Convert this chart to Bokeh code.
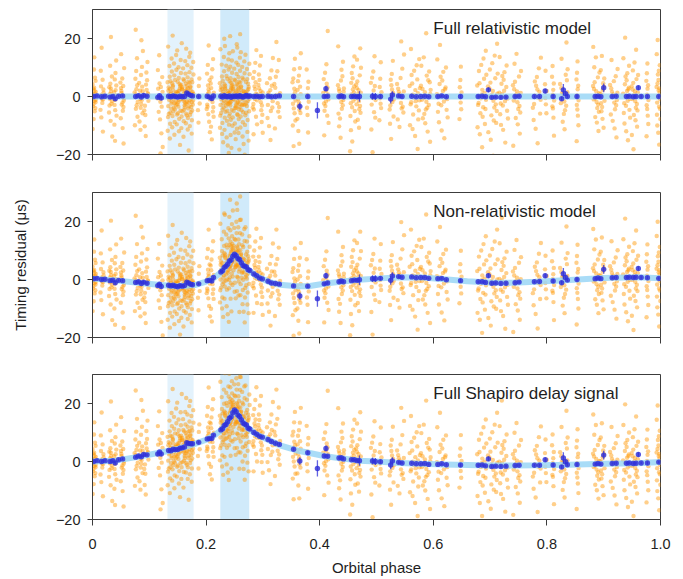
import numpy as np
from bokeh.plotting import figure
from bokeh.models import Range1d, FixedTicker, Label, BoxAnnotation
from bokeh.layouts import column
from bokeh.embed import file_html
from bokeh.resources import INLINE

# ---------------- data ----------------
panel_titles = ["Full relativistic model", "Non-relativistic model", "Full Shapiro delay signal"]
x_label = "Orbital phase"
y_label = "Timing residual (μs)"

x_ticks = [0, 0.2, 0.4, 0.6, 0.8, 1.0]
x_tick_labels = ["0", "0.2", "0.4", "0.6", "0.8", "1.0"]
y_ticks = [-20, 0, 20]
y_tick_labels = ["−20", "0", "20"]

# shaded phase windows
shade_lo = [0.132, 0.225]
shade_hi = [0.178, 0.276]

# model curves (light blue)
curve_phase = [0.0, 0.04, 0.08, 0.12, 0.15, 0.18, 0.2, 0.215, 0.225, 0.235, 0.245, 0.25, 0.255, 0.265,
               0.275, 0.29, 0.31, 0.33, 0.36, 0.38, 0.41, 0.44, 0.47, 0.5, 0.54, 0.58, 0.62, 0.66,
               0.7, 0.74, 0.78, 0.84, 0.9, 0.96, 1.0]
curve_full = [0.0, 0.0, 0.0, 0.0, 0.0, 0.0, 0.0, 0.0, 0.0, 0.0, 0.0, 0.0, 0.0, 0.0, 0.0, 0.0, 0.0, 0.0,
              0.0, 0.0, 0.0, 0.0, 0.0, 0.0, 0.0, 0.0, 0.0, 0.0, 0.0, 0.0, 0.0, 0.0, 0.0, 0.0, 0.0]
curve_nonrel = [0.3, -0.3, -1.1, -1.9, -2.3, -1.9, -0.7, 0.7, 2.3, 4.6, 7.3, 8.7, 7.6, 5.0, 3.2, 1.0,
                -0.8, -1.8, -2.3, -2.3, -1.4, -0.7, -0.1, 0.3, 0.8, 0.7, 0.1, -0.6, -1.0, -1.1, -0.8,
                -0.2, 0.5, 0.8, 0.4]
curve_shapiro = [0.0, 0.3, 1.6, 3.1, 4.3, 6.1, 7.5, 9.1, 10.6, 12.8, 16.0, 17.8, 16.4, 13.5, 11.3, 9.2,
                 7.4, 5.6, 3.8, 3.0, 1.8, 1.0, 0.3, 0.0, -0.5, -0.8, -1.0, -1.2, -1.4, -1.4, -1.3,
                 -1.1, -0.8, -0.6, -0.2]

# binned residuals (blue points with error bars)
blue_phase = [0.002, 0.008, 0.016, 0.022, 0.031, 0.036, 0.040, 0.046, 0.053, 0.076,
              0.081, 0.086, 0.090, 0.096, 0.115, 0.118, 0.121, 0.134, 0.138, 0.142,
              0.146, 0.150, 0.154, 0.158, 0.162, 0.166, 0.169, 0.173, 0.176, 0.187,
              0.202, 0.206, 0.210, 0.213, 0.226, 0.229, 0.232, 0.235, 0.238, 0.241,
              0.244, 0.247, 0.250, 0.253, 0.256, 0.259, 0.262, 0.265, 0.268, 0.271,
              0.274, 0.277, 0.284, 0.289, 0.294, 0.299, 0.309, 0.315, 0.322, 0.329,
              0.354, 0.365, 0.379, 0.396, 0.408, 0.411, 0.414, 0.434, 0.438, 0.442,
              0.456, 0.461, 0.466, 0.470, 0.493, 0.498, 0.507, 0.525, 0.528, 0.539,
              0.545, 0.562, 0.570, 0.578, 0.585, 0.592, 0.608, 0.615, 0.623, 0.648,
              0.679, 0.686, 0.692, 0.697, 0.703, 0.710, 0.719, 0.728, 0.744, 0.751,
              0.778, 0.787, 0.797, 0.811, 0.826, 0.829, 0.833, 0.836, 0.853, 0.885,
              0.890, 0.895, 0.900, 0.915, 0.922, 0.940, 0.945, 0.952, 0.957, 0.961,
              0.966, 0.977, 0.997]
blue_full = [0.0, 0.2, -0.1, 0.1, -0.2, 0.0, -0.8, 0.1, 0.2, 0.0,
             0.3, -0.2, 0.4, 0.1, -0.3, 0.3, -0.5, 0.1, -0.1, 0.2,
             0.0, -0.2, 0.1, -0.1, 0.0, 1.2, 0.8, 0.4, 0.2, 0.0,
             0.1, -0.2, -0.7, 0.2, 0.1, -0.2, 0.3, 0.0, -0.1, 0.2,
             -0.3, 0.1, 0.0, 0.2, -0.1, 0.3, 0.0, -0.2, 0.1, 0.4,
             0.0, 0.2, 0.0, 0.1, -0.1, 0.0, 0.1, -0.1, 0.0, 0.2,
             0.0, -3.4, 0.0, -4.8, 0.0, 2.7, 0.1, 0.0, 0.2, -0.1,
             0.0, 0.1, -0.1, 0.0, 0.1, 0.0, 0.0, -0.9, 0.5, 0.2,
             0.0, 0.1, -0.1, 0.0, 0.1, -0.1, 0.0, 0.2, -0.1, 0.0,
             0.0, 0.1, -0.1, 2.3, -0.3, -0.2, -0.3, -0.2, 0.0, 0.1,
             0.0, 0.0, 1.9, 0.0, -0.8, 2.3, 1.0, 0.0, 0.0, 0.0,
             0.1, -0.1, 3.0, 0.0, 0.1, 0.0, 0.1, -0.1, 0.0, 3.0,
             0.0, 0.0, 0.0]
blue_nonrel = [0.3, 0.4, 0.0, 0.1, -0.4, -0.2, -1.1, -0.3, -0.4, -1.0,
               -0.8, -1.4, -0.9, -1.3, -2.1, -1.6, -2.4, -2.0, -2.2, -2.0,
               -2.3, -2.5, -2.1, -2.3, -2.1, -0.9, -1.2, -1.6, -1.8, -1.5,
               -0.4, -0.3, -0.5, 0.7, 2.6, 3.0, 4.2, 4.6, 5.3, 6.4,
               6.7, 8.0, 8.7, 8.2, 7.2, 6.9, 5.8, 4.8, 4.6, 4.3,
               3.4, 3.1, 1.9, 1.3, 0.5, 0.2, -0.6, -1.2, -1.4, -1.6,
               -2.2, -5.7, -2.3, -6.6, -1.5, 1.3, -1.2, -0.8, -0.5, -0.8,
               -0.4, -0.2, -0.3, -0.1, 0.3, 0.3, 0.4, -0.3, 1.2, 1.0,
               0.8, 0.9, 0.6, 0.7, 0.7, 0.4, 0.3, 0.4, -0.1, -0.4,
               -0.8, -0.8, -1.0, 1.3, -1.3, -1.2, -1.4, -1.3, -1.1, -0.9,
               -0.8, -0.7, 1.3, -0.5, -1.1, 2.0, 0.7, -0.2, 0.0, 0.3,
               0.5, 0.3, 3.5, 0.6, 0.7, 0.7, 0.8, 0.7, 0.8, 3.8,
               0.7, 0.6, 0.4]
blue_shapiro = [0.0, 0.3, 0.0, 0.3, 0.0, 0.3, -0.5, 0.6, 0.9, 1.5,
                1.9, 1.6, 2.4, 2.3, 2.6, 3.3, 2.6, 3.8, 3.7, 4.2,
                4.1, 4.1, 4.6, 4.7, 5.0, 6.5, 6.2, 6.1, 6.1, 6.6,
                7.8, 7.9, 7.9, 9.1, 10.9, 11.3, 12.4, 12.8, 13.7, 14.9,
                15.4, 16.8, 17.8, 17.2, 16.0, 15.5, 14.4, 13.3, 12.9, 12.6,
                11.5, 11.2, 10.0, 9.4, 8.7, 8.4, 7.6, 6.9, 6.3, 5.9,
                4.2, 0.2, 3.0, -2.4, 1.9, 4.5, 1.8, 1.2, 1.3, 0.9,
                0.6, 0.6, 0.3, 0.3, 0.2, 0.0, -0.1, -1.2, 0.2, -0.3,
                -0.5, -0.6, -0.8, -0.8, -0.7, -1.0, -1.0, -0.8, -1.1, -1.2,
                -1.3, -1.2, -1.5, 0.9, -1.7, -1.6, -1.7, -1.6, -1.4, -1.3,
                -1.3, -1.3, 0.6, -1.2, -1.9, 1.2, -0.1, -1.1, -1.0, -0.9,
                -0.7, -0.9, 2.2, -0.7, -0.6, -0.6, -0.5, -0.7, -0.6, 2.4,
                -0.5, -0.5, -0.2]
blue_err = [0.4, 0.4, 0.4, 0.4, 0.5, 0.4, 0.6, 0.4, 0.4, 0.4,
            0.5, 0.4, 0.6, 0.4, 0.5, 0.5, 0.7, 0.4, 0.3, 0.3,
            0.3, 0.3, 0.3, 0.3, 0.3, 0.4, 0.4, 0.4, 0.4, 0.4,
            0.4, 0.4, 0.6, 0.4, 0.3, 0.3, 0.3, 0.3, 0.3, 0.3,
            0.3, 0.3, 0.3, 0.3, 0.3, 0.3, 0.3, 0.3, 0.3, 0.3,
            0.3, 0.3, 0.4, 0.4, 0.4, 0.4, 0.4, 0.4, 0.4, 0.5,
            0.5, 1.3, 0.6, 2.8, 0.5, 1.0, 0.5, 0.4, 0.4, 0.4,
            0.4, 0.4, 0.4, 1.8, 1.2, 1.2, 0.6, 1.5, 1.3, 0.5,
            0.4, 0.3, 0.3, 0.3, 0.3, 0.3, 0.4, 0.4, 0.4, 0.6,
            0.4, 0.4, 0.4, 0.8, 0.5, 0.4, 0.4, 0.4, 0.4, 0.4,
            0.4, 0.4, 0.8, 0.6, 0.7, 2.0, 0.8, 0.5, 0.6, 0.4,
            0.4, 0.4, 1.5, 0.4, 0.4, 0.4, 0.4, 0.4, 0.4, 0.8,
            0.4, 0.5, 0.4]

# individual TOA residuals (orange), grouped by observing epoch (phase stripe)
stripe_lo = [0.000, 0.014, 0.029, 0.038, 0.049, 0.074, 0.082, 0.091, 0.114, 0.132,
             0.140, 0.148, 0.156, 0.164, 0.171, 0.185, 0.201, 0.208, 0.224, 0.232,
             0.240, 0.246, 0.254, 0.260, 0.268, 0.282, 0.292, 0.307, 0.320, 0.352,
             0.360, 0.377, 0.406, 0.432, 0.453, 0.464, 0.490, 0.505, 0.523, 0.536,
             0.558, 0.578, 0.606, 0.646, 0.677, 0.696, 0.716, 0.740, 0.775, 0.796,
             0.809, 0.823, 0.852, 0.881, 0.894, 0.911, 0.934, 0.949, 0.975, 0.993]
stripe_hi = [0.006, 0.020, 0.035, 0.043, 0.056, 0.080, 0.089, 0.099, 0.124, 0.140,
             0.148, 0.156, 0.164, 0.171, 0.178, 0.189, 0.207, 0.214, 0.232, 0.240,
             0.246, 0.254, 0.260, 0.268, 0.277, 0.290, 0.300, 0.318, 0.331, 0.358,
             0.367, 0.381, 0.416, 0.443, 0.463, 0.473, 0.499, 0.509, 0.531, 0.549,
             0.577, 0.596, 0.626, 0.650, 0.694, 0.714, 0.732, 0.755, 0.790, 0.800,
             0.813, 0.837, 0.856, 0.893, 0.902, 0.925, 0.947, 0.961, 0.979, 1.000]
stripe_full = [0.0, 0.0, 0.0, 0.0, 0.0, 0.0, 0.0, 0.0, 0.0, 0.0,
               0.0, 0.0, 0.0, 0.0, 0.0, 0.0, 0.0, 0.0, 0.0, 0.0,
               0.0, 0.0, 0.0, 0.0, 0.0, 0.0, 0.0, 0.0, 0.0, 0.0,
               0.0, 0.0, 0.0, 0.0, 0.0, 0.0, 0.0, 0.0, 0.0, 0.0,
               0.0, 0.0, 0.0, 0.0, 0.0, 0.0, 0.0, 0.0, 0.0, 0.0,
               0.0, 0.0, 0.0, 0.0, 0.0, 0.0, 0.0, 0.0, 0.0, 0.0]
stripe_nonrel = [0.3, 0.1, -0.2, -0.3, -0.5, -1.0, -1.2, -1.4, -1.9, -2.1,
                 -2.2, -2.3, -2.3, -2.2, -2.0, -1.6, -0.4, 0.3, 2.9, 4.9,
                 6.7, 8.2, 7.1, 5.3, 3.6, 1.5, 0.3, -0.9, -1.6, -2.3,
                 -2.3, -2.3, -1.4, -0.8, -0.3, -0.1, 0.2, 0.4, 0.6, 0.8,
                 0.8, 0.6, 0.3, -0.4, -0.9, -1.0, -1.1, -1.1, -0.8, -0.7,
                 -0.5, -0.3, -0.1, 0.3, 0.5, 0.6, 0.7, 0.8, 0.7, 0.4]
stripe_shapiro = [0.0, 0.1, 0.2, 0.3, 0.7, 1.5, 1.8, 2.2, 3.1, 3.6,
                  4.0, 4.4, 4.9, 5.4, 5.8, 6.6, 7.9, 8.6, 11.2, 13.1,
                  15.3, 17.0, 15.8, 13.8, 11.8, 9.6, 8.6, 7.2, 6.0, 4.1,
                  3.6, 3.0, 1.8, 1.1, 0.6, 0.4, 0.0, -0.1, -0.3, -0.5,
                  -0.7, -0.8, -1.0, -1.2, -1.3, -1.4, -1.4, -1.4, -1.3, -1.3,
                  -1.2, -1.1, -1.0, -0.9, -0.8, -0.7, -0.6, -0.6, -0.4, -0.2]
orange_resid = [
    [0.5, -1.2, 2.1, -3.4, 1.0, -0.3, 4.2, -5.1, 0.8, -2.0, 3.0, -0.7, 6.5, -7.8, 1.6, -1.5, 2.7, -4.0, 9.3, -11.2, 0.2, -2.6, 5.4, 13.5],
    [-0.4, 1.3, -2.2, 3.5, -1.0, 0.6, -4.6, 5.8, -7.2, 2.4, -0.9, 8.9, -12.1, 16.8],
    [0.9, -1.6, 2.8, -3.1, 0.1, 4.4, -5.5, 1.7, -0.8, 6.9, -8.4, 3.2, -2.5, 10.6, -13.8, 20.5],
    [-1.1, 0.4, 2.2, -2.9, 3.8, -4.7, 1.5, -0.2, 5.9, -6.6, 8.1, -9.7, 12.4, -15.3],
    [1.2, -0.6, -2.1, 2.9, -3.6, 0.3, 4.8, -4.9, 1.9, -1.4, 6.2, -7.5, 3.6, -2.8, 9.8, -10.9, 14.6, -16.2],
    [0.7, -1.9, 2.5, -0.2, 3.9, -4.2, 1.4, -3.0, 6.1, -7.0, 8.8, -9.9, 13.2, 23.0],
    [-0.9, 1.8, -2.6, 0.3, 3.4, -3.9, 4.7, -1.3, 2.0, -5.8, 7.4, -8.6, 10.2, -11.5, 15.7, 19.4],
    [0.2, -1.5, 2.3, -3.2, 1.1, 4.1, -4.8, 5.6, -6.4, 0.8, 8.3, -10.3, 11.9, -13.6],
    [-0.3, 1.6, -1.8, 2.7, -3.5, 4.5, -0.6, 3.3, -5.3, 6.7, -7.9, 9.1, -12.7, 14.2, -17.4, -19.6],
    [0.4, -1.7, 2.6, -3.3, 1.2, -0.5, 4.9, -5.6, 3.1, -2.4, 6.8, -7.1, 0.9, -1.1, 8.6, -9.4, 2.0, -4.2, 10.5, -11.8, 5.3, -6.0, 13.1, -14.5, 17.2, -0.2],
    [-0.8, 1.5, -2.3, 3.4, 0.1, -3.9, 4.6, -4.4, 2.2, -1.6, 7.3, -6.7, 1.0, -0.4, 9.2, -8.8, 3.8, -2.9, 11.4, -10.6, 5.7, -5.2, 14.3, -13.2, 21.0, 0.6],
    [1.1, -0.9, 2.0, -2.7, 3.7, -3.5, 0.5, -1.3, 5.1, -4.9, 6.4, -6.2, 2.8, -2.0, 8.1, -7.7, 1.7, -0.1, 10.1, -9.6, 4.3, -5.8, 12.6, -12.0, 15.9, -16.7],
    [-0.2, 1.9, -1.5, 2.4, -3.0, 0.7, 4.0, -4.6, 3.2, -2.2, 6.0, -6.9, 1.3, -0.6, 7.9, -8.5, 2.6, -3.7, 9.7, -10.9, 5.5, -5.1, 12.2, -13.9, 18.4, -1.0],
    [0.6, -1.2, 2.9, -2.5, 1.4, -0.3, 4.4, -4.1, 3.6, -3.4, 6.6, -5.9, 0.2, -1.8, 8.4, -7.4, 2.3, -2.1, 10.8, -9.2, 5.0, -6.5, 13.7, -11.4, 16.5, -18.6],
    [-0.5, 1.0, -2.0, 3.1, 0.8, -3.6, 4.7, -4.8, 2.1, -1.4, 5.9, -6.3, 1.6, -0.7, 7.6, -8.2, 3.5, -2.8, 9.9, -10.2, 4.9, -5.4, 11.9, -12.8, 15.1, -0.1],
    [0.3, -2.4, 3.6, -4.7, 6.2, -9.0],
    [0.8, -1.0, 2.4, -2.8, 0.1, 3.8, -4.3, 1.5, -3.5, 5.6, -6.1, 7.9, -8.7, 10.9, -12.3, 17.6],
    [-0.6, 1.3, -1.9, 2.9, -3.7, 0.4, 4.5, -5.2, 6.6, -7.0, 9.4, -10.4, 12.9, -14.8],
    [0.5, -1.4, 2.7, -2.9, 1.6, -0.2, 4.6, -4.5, 3.3, -3.8, 6.9, -6.6, 0.9, -1.0, 8.7, -9.1, 2.2, -2.3, 11.0, -10.8, 5.4, -5.7, 13.6, -12.9, 16.3, -15.8, 0.0, 19.9],
    [-0.7, 1.2, -2.1, 3.0, 0.3, -3.2, 4.2, -4.9, 2.5, -1.7, 7.1, -7.3, 1.8, -0.4, 9.3, -8.4, 3.7, -2.6, 10.6, -11.5, 6.1, -5.3, 12.8, -14.1, 17.4, -16.9, 0.8, -19.5],
    [1.0, -0.6, 2.3, -2.4, 3.6, -3.1, 0.2, -1.8, 5.2, -4.6, 6.3, -6.8, 2.9, -2.0, 8.2, -8.0, 1.4, -0.9, 10.3, -9.7, 4.8, -5.9, 12.4, -13.3, 14.9, -17.7, 20.8, -0.3],
    [-0.1, 1.7, -1.3, 2.6, -3.4, 0.6, 4.1, -4.0, 3.4, -2.7, 5.8, -7.2, 1.1, -0.8, 7.8, -9.3, 2.0, -3.9, 9.6, -10.1, 5.5, -5.0, 11.7, -12.4, 15.6, -14.7, 0.4, 18.0],
    [0.7, -1.1, 2.8, -2.2, 1.3, -0.5, 4.3, -4.4, 3.9, -3.6, 6.7, -6.1, 0.1, -1.9, 8.9, -7.8, 2.4, -2.5, 10.9, -11.1, 5.1, -6.4, 13.4, -12.6, 16.9, -18.3, -0.2, 21.5],
    [-0.4, 1.5, -2.6, 3.2, 0.9, -3.0, 4.8, -5.4, 2.1, -1.2, 6.5, -6.9, 1.9, -0.6, 8.0, -8.9, 3.5, -2.9, 10.2, -10.7, 5.9, -4.7, 12.1, -13.8, 15.3, -16.4, 0.5, -20.1],
    [0.9, -0.8, 2.1, -2.7, 3.3, -3.3, 0.3, -1.5, 5.0, -5.1, 6.0, -6.5, 2.6, -2.1, 7.7, -8.1, 1.5, -0.2, 9.5, -9.8, 4.4, -5.6, 11.3, -12.2, 14.4, -15.2],
    [0.2, -1.3, 2.5, -2.6, 1.0, 3.5, -3.8, 4.9, -4.5, 0.6, -0.9, 6.4, -7.0, 8.5, -9.6, 11.6, -13.0, 16.0],
    [-0.5, 1.4, -2.0, 2.8, -3.1, 0.7, 4.0, -4.7, 5.7, -6.3, 1.9, 7.6, -8.8, 10.7, -12.5, 14.0],
    [0.6, -1.6, 2.2, -2.9, 3.7, -0.1, 4.6, -5.0, 1.3, -3.8, 6.3, -7.4, 9.0, -10.2, 13.3, -15.0],
    [-0.3, 1.1, -2.3, 3.0, -3.6, 0.5, 4.3, -5.2, 6.8, -7.1, 8.7, -11.0, 12.6, 18.8],
    [0.4, -1.4, 2.7, -2.5, 1.5, -4.1, 4.9, -5.8, 6.2, -8.3, 9.4, -10.0, 13.0, -17.1],
    [-0.9, 0.8, -2.1, 2.3, 3.4, -3.2, 0.2, -4.6, 5.3, -5.7, 7.2, -7.7, 9.8, -11.9, 14.9, -16.3],
    [0.5, -1.8, 2.9, -3.9, 5.1, -6.4, 9.3, -12.4],
    [0.1, -1.0, 2.0, -2.4, 3.1, -3.3, 1.2, 4.4, -4.9, 0.7, -1.7, 6.0, -6.6, 8.2, -9.1, 11.1, -13.4, 22.6],
    [-0.4, 1.6, -1.9, 2.6, -3.0, 0.6, 3.9, -4.2, 1.8, -1.2, 5.5, -5.9, 7.0, -7.6, 2.8, 9.2, -10.3, 12.0, -14.2, 17.3],
    [0.7, -0.7, 2.4, -2.3, 3.5, -3.7, 0.2, -1.5, 4.7, -5.0, 6.3, -6.7, 1.4, 8.1, -8.6, 10.4, -11.6, 13.8, -15.5, -18.9],
    [-0.2, 1.3, -1.6, 2.9, -3.3, 0.9, 4.1, -4.4, 5.2, -5.6, 2.2, -2.7, 7.3, -8.0, 9.9, -10.8, 12.7, 16.6],
    [0.3, -1.2, 2.1, -2.8, 3.6, -0.5, 4.7, -5.4, 6.5, -7.3, 8.6, -11.4, 13.9, -19.2],
    [-0.6, 1.5, -2.5, 3.3, -4.0, 6.1, -8.2, 11.8],
    [0.5, -1.0, 2.4, -3.1, 1.2, 3.9, -4.5, -1.9, 5.8, -6.9, 7.8, -9.4, 12.3, -14.6],
    [-0.1, 1.7, -2.2, 2.7, -3.5, 0.8, 4.3, -4.1, 1.6, -5.5, 6.4, -7.9, 9.6, -10.5, 14.5, 19.0],
    [0.6, -1.3, 2.2, -2.0, 1.1, -0.4, 3.6, -3.4, 4.5, -4.8, 0.3, -2.7, 5.9, -6.2, 2.9, -1.6, 7.4, -7.9, 8.9, -9.9, 10.8, -11.2, 12.9, -13.6, 16.4, -18.1],
    [-0.5, 0.9, -1.8, 2.6, -2.9, 1.5, 3.7, -3.9, 0.0, 4.9, -4.5, -1.1, 5.6, -6.0, 2.3, 7.2, -7.5, 8.6, -9.2, 10.6, -12.1, 13.5, -15.6, 21.8],
    [0.4, -0.9, 1.9, -2.5, 3.1, -3.0, 0.8, -1.7, 4.3, -4.6, 5.5, -5.3, 2.5, 6.8, -7.2, 8.5, -8.9, 10.0, -11.7, 12.8, -14.4, 17.8],
    [-0.3, 1.4, -2.1, 3.2, -4.4, 5.7, -7.8, 10.3],
    [0.2, -1.1, 2.3, -2.2, 1.2, -0.6, 3.8, -3.7, 4.6, -4.3, 0.7, -2.9, 6.1, -5.8, 7.5, -7.0, 8.8, -9.5, 10.9, -10.6, 13.1, -13.0, 15.8, -17.5],
    [-0.4, 1.0, -1.5, 2.7, -2.7, 0.5, 3.5, -3.8, 4.8, -5.0, 1.9, -0.1, 6.3, -6.5, 7.9, -8.3, 9.3, -9.1, 11.5, -12.3, 14.1, -14.9, 18.2, -20.4],
    [0.8, -0.7, 2.0, -2.4, 3.3, -3.1, 1.3, -1.6, 4.4, -4.9, 5.8, -6.1, 0.1, 7.1, -7.6, 8.4, -9.8, 10.7, -11.5, 13.6, -15.9, 22.4],
    [-0.2, 1.2, -2.0, 2.5, -3.3, 0.6, 3.9, -4.3, 5.1, -5.5, 1.7, -1.4, 6.9, -7.4, 8.8, -9.6, 11.3, -12.8, 14.7, -17.0],
    [0.3, -1.1, 2.4, -2.6, 1.6, 3.7, -3.9, -0.4, 5.2, -5.9, 6.7, -8.1, 9.7, -11.1, 13.4, -16.1],
    [-0.5, 1.9, -2.7, 4.2, -5.8, 8.9],
    [0.6, -1.4, 2.3, -3.4, 4.5, -4.1, 6.8, -7.3, 10.5, -13.5],
    [-0.1, 1.5, -1.7, 2.9, -3.2, 0.8, 4.3, -4.7, 1.2, 5.6, -6.0, -2.3, 7.5, -8.7, 9.4, -11.3, 13.0, 18.6],
    [0.4, -1.3, 2.5, -2.9, 3.7, -4.5, 5.9, -6.6, 8.2, -9.9, 12.1, -15.4],
    [-0.6, 1.1, -1.9, 2.6, -2.8, 0.3, 3.6, -4.0, 4.9, -5.3, 1.8, -1.0, 6.6, -7.1, 8.3, -9.0, 10.1, -11.9, 13.5, 17.1],
    [0.5, -1.5, 2.2, -2.3, 3.4, -3.6, 0.9, 4.6, -5.1, 6.2, -7.7, 9.1, -10.8, 14.0],
    [-0.3, 1.3, -2.1, 2.8, -3.0, 0.7, 4.0, -4.4, 1.6, -1.2, 5.3, -6.2, 7.0, -8.4, 9.5, -11.0, 12.6, -14.1],
    [0.2, -0.8, 1.9, -2.3, 3.0, -3.2, 1.0, -1.5, 4.2, -4.6, 5.6, -5.7, 2.5, 6.9, -7.3, 8.0, -9.3, 10.6, -12.0, 13.2, -15.1, 20.3],
    [-0.4, 1.4, -1.6, 2.4, -2.6, 0.6, 3.5, -3.9, 4.7, -4.8, 1.8, -0.9, 6.0, -6.4, 7.4, -8.2, 9.0, -10.4, 11.7, -13.3, 16.1, -18.2],
    [0.6, -1.2, 2.7, -3.0, 3.9, -4.3, 5.4, -6.6, 8.0, -9.5, 11.4, -13.7],
    [0.1, -1.0, 2.1, -2.1, 1.3, -0.3, 3.3, -3.5, 4.5, -4.2, 5.7, -6.3, 2.8, 7.6, -7.8, 8.9, -10.0, 10.8, -12.5, 14.6, -16.6, 19.5],
]

# ---------------- styling ----------------
FONT = "Liberation Sans"
INK = "#1e1e1e"
FRAME = "#3c3c3c"
SHADE_COLORS = ["#e3f2fc", "#d0eafa"]
ORANGE = "#ff9600"
BLUE = "#2f2fd8"
CURVE = "#9ad6f6"
GOLDEN = 0.6180339887


def orange_points(offsets):
    xs, ys = [], []
    for lo, hi, off, res in zip(stripe_lo, stripe_hi, offsets, orange_resid):
        frac = (np.arange(len(res)) * GOLDEN + 0.31) % 1.0
        xs.extend(lo + (hi - lo) * frac)
        ys.extend(np.asarray(res, dtype=float) + off)
    return xs, ys


def make_panel(title, blue_y, curve_y, offsets, height, b_top, b_bottom, bottom_labels, left_label):
    p = figure(width=675, height=height, x_range=Range1d(0, 1), y_range=Range1d(-20, 30),
               output_backend="svg", toolbar_location=None,
               min_border_left=92, min_border_right=15,
               min_border_top=b_top, min_border_bottom=b_bottom)
    p.xgrid.grid_line_color = None
    p.ygrid.grid_line_color = None
    p.outline_line_color = FRAME
    p.outline_line_width = 1
    p.outline_line_alpha = 1.0
    p.background_fill_color = "white"
    p.border_fill_color = "white"

    for lo, hi, c in zip(shade_lo, shade_hi, SHADE_COLORS):
        p.add_layout(BoxAnnotation(left=lo, right=hi, fill_color=c, fill_alpha=1.0,
                                   line_color=None, level="underlay"))

    ox, oy = orange_points(offsets)
    p.scatter(ox, oy, size=4.4, fill_color=ORANGE, fill_alpha=0.46, line_color=None)

    p.line(curve_phase, curve_y, line_color=CURVE, line_width=6, line_alpha=0.85)

    y0 = [v - e for v, e in zip(blue_y, blue_err)]
    y1 = [v + e for v, e in zip(blue_y, blue_err)]
    p.segment(blue_phase, y0, blue_phase, y1, line_color=BLUE, line_width=1.3, line_alpha=0.75)
    p.scatter(blue_phase, blue_y, size=5.4, fill_color=BLUE, fill_alpha=0.82, line_color=None)

    p.add_layout(Label(x=0.6, y=23.5, text=title, text_font=FONT, text_font_size="17px",
                       text_baseline="middle", text_color=INK))

    xa = p.xaxis[0]
    ya = p.yaxis[0]
    xa.ticker = FixedTicker(ticks=x_ticks)
    ya.ticker = FixedTicker(ticks=y_ticks)
    ya.major_label_overrides = dict(zip(y_ticks, y_tick_labels))
    for ax in (xa, ya):
        ax.axis_line_color = FRAME
        ax.major_tick_line_color = FRAME
        ax.minor_tick_line_color = None
        ax.major_tick_in = 0
        ax.major_label_text_font = FONT
        ax.major_label_text_font_size = "14.5px"
        ax.major_label_text_color = INK
        ax.axis_label_text_font = FONT
        ax.axis_label_text_font_size = "15px"
        ax.axis_label_text_font_style = "normal"
        ax.axis_label_text_color = INK
    ya.major_tick_out = 5
    xa.major_tick_out = 6
    ya.major_label_standoff = 7
    xa.major_label_standoff = 13
    if bottom_labels:
        xa.major_label_overrides = dict(zip(x_ticks, x_tick_labels))
        xa.axis_label = x_label
        xa.axis_label_standoff = 7
    else:
        xa.major_label_overrides = {t: "" for t in x_ticks}
    if left_label:
        ya.axis_label = y_label
        ya.axis_label_standoff = 24
    return p


p1 = make_panel(panel_titles[0], blue_full, curve_full, stripe_full, 182, 9, 28, False, False)
p2 = make_panel(panel_titles[1], blue_nonrel, curve_nonrel, stripe_nonrel, 182, 10, 27, False, True)
p3 = make_panel(panel_titles[2], blue_shapiro, curve_shapiro, stripe_shapiro, 215, 10, 60, True, False)

layout = column(p1, p2, p3)
open("out.html", "w").write(file_html(layout, INLINE))
